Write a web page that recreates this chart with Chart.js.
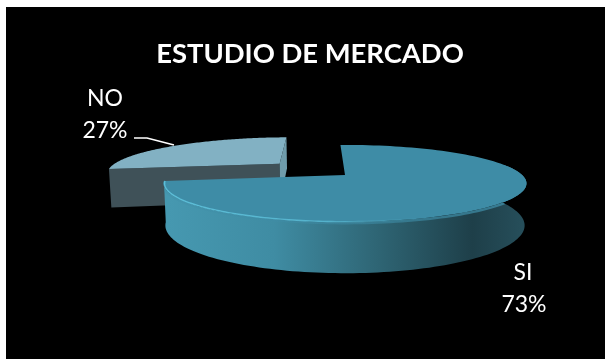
<!DOCTYPE html>
<html>
<head>
<meta charset="utf-8">
<title>Estudio de mercado</title>
<style>
    html, body { margin: 0; padding: 0; background: #fff; overflow: hidden; }
    #wrap { position: absolute; left: 6px; top: 7px; width: 599px; height: 352px; background: #000; }
</style>
</head>
<body>
<div id="wrap"><canvas id="chart" width="599" height="352"></canvas></div>
<script src="https://cdn.jsdelivr.net/npm/chart.js@4/dist/chart.umd.js"></script>
<script>
const categories = ['SI', 'NO'];
const values = [73, 27];
const topColors = ['#3e8ca6', '#82b1c3'];
const explode = [0, 91];

// view of the tilted disc
const FLATTEN = 0.207;
const PERSPECTIVE = 0.22;
const DEPTH = 40;
const SHIFT_X = 35;

// turns a point on the disc (in pixels from the pie centre) into a screen point
function project(cx, cy, r, x, y, low) {
    const s = 1 / (1 - PERSPECTIVE * y / r);
    const shrink = low ? 0.99 : 1;
    return {
        x: cx + x * s * shrink,
        y: cy + y * FLATTEN * s + (low ? DEPTH * s : 0)
    };
}

function rimPoints(cx, cy, r, ox, oy, from, to, low) {
    const pts = [];
    const steps = 120;
    for (let i = 0; i <= steps; i++) {
        const a = from + (to - from) * i / steps;
        pts.push(project(cx, cy, r, ox + r * Math.cos(a), oy + r * Math.sin(a), low));
    }
    return pts;
}

function tracePoints(ctx, pts) {
    pts.forEach((p, i) => {
        if (i === 0) {
            ctx.moveTo(p.x, p.y);
        } else {
            ctx.lineTo(p.x, p.y);
        }
    });
}

function fillShape(ctx, pts, fill) {
    ctx.beginPath();
    tracePoints(ctx, pts);
    ctx.closePath();
    ctx.fillStyle = fill;
    ctx.fill();
}

function drawSlice(ctx, el, index) {
    const {x, y, startAngle, endAngle, outerRadius: r} = el.getProps(['x', 'y', 'startAngle', 'endAngle', 'outerRadius'], true);
    const cx = x + SHIFT_X;
    const mid = (startAngle + endAngle) / 2;
    const ox = Math.cos(mid) * explode[index];
    const oy = Math.sin(mid) * explode[index];

    const apexTop = project(cx, y, r, ox, oy, false);
    const apexLow = project(cx, y, r, ox, oy, true);
    const top = rimPoints(cx, y, r, ox, oy, startAngle, endAngle, false);

    if (index === 0) {
        // outer wall, only the part that faces the viewer
        const wallFrom = -0.3;
        const wallTop = rimPoints(cx, y, r, ox, oy, wallFrom, endAngle, false);
        const wallLow = rimPoints(cx, y, r, ox, oy, wallFrom, endAngle, true);
        const wall = wallTop.concat(wallLow.slice().reverse());
        const grad = ctx.createLinearGradient(cx - r, 0, cx + r, 0);
        grad.addColorStop(0, '#4698b0');
        grad.addColorStop(0.3, '#3f8ca3');
        grad.addColorStop(0.6, '#2e6473');
        grad.addColorStop(0.86, '#1e3f49');
        grad.addColorStop(1, '#264e5a');
        fillShape(ctx, wall, grad);

        // soft bevel where the wall meets the top face, kept inside the wall
        const bevel = ctx.createLinearGradient(cx - r, 0, cx + r, 0);
        bevel.addColorStop(0, 'rgba(62,140,166,0.25)');
        bevel.addColorStop(1, 'rgba(62,140,166,0.8)');
        ctx.save();
        ctx.beginPath();
        tracePoints(ctx, wall);
        ctx.closePath();
        ctx.clip();
        ctx.beginPath();
        tracePoints(ctx, wallTop);
        ctx.strokeStyle = bevel;
        ctx.lineWidth = 5;
        ctx.stroke();
        ctx.restore();
    } else {
        // the two cut faces of the pulled-out slice
        const low = rimPoints(cx, y, r, ox, oy, startAngle, endAngle, true);
        const first = top[0];
        const firstLow = low[0];
        const last = top[top.length - 1];
        const lastLow = low[low.length - 1];
        fillShape(ctx, [first, apexTop, apexLow, firstLow], '#3f5158');
        fillShape(ctx, [last, apexTop, apexLow, lastLow], '#6f9cab');
    }

    fillShape(ctx, [apexTop].concat(top), el.options.backgroundColor);

    if (index === 0) {
        // thin highlight on the near edge, gone before the right side
        const edge = rimPoints(cx, y, r - 1, ox, oy, Math.PI * 0.2, endAngle, false);
        const shine = ctx.createLinearGradient(cx - r, 0, cx + r, 0);
        shine.addColorStop(0, 'rgba(92,190,216,1)');
        shine.addColorStop(0.45, 'rgba(88,184,210,0.9)');
        shine.addColorStop(0.72, 'rgba(80,170,195,0)');
        ctx.beginPath();
        tracePoints(ctx, edge);
        ctx.strokeStyle = shine;
        ctx.lineWidth = 1.4;
        ctx.stroke();
    }
}

const pie3d = {
    id: 'pie3d',
    beforeDatasetDraw(chart, args) {
        const ctx = chart.ctx;
        const arcs = chart.getDatasetMeta(args.index).data;
        ctx.save();
        // back slice first, the big one sits in front of it
        [1, 0].forEach(i => drawSlice(ctx, arcs[i], i));
        ctx.restore();
        return false;
    },
    afterDraw(chart) {
        const ctx = chart.ctx;
        ctx.save();
        ctx.fillStyle = '#fff';
        ctx.font = '23px Lato';
        ctx.textAlign = 'center';
        ctx.textBaseline = 'middle';
        ctx.fillText(categories[1], 99, 92);
        ctx.fillText(values[1] + '%', 99, 124);
        ctx.fillText(categories[0], 517, 266);
        ctx.fillText(values[0] + '%', 518, 298);

        ctx.strokeStyle = '#fff';
        ctx.lineWidth = 1.5;
        ctx.beginPath();
        ctx.moveTo(128, 131);
        ctx.lineTo(141, 131);
        ctx.lineTo(168, 138);
        ctx.stroke();
        ctx.restore();
    }
};

new Chart(document.getElementById('chart'), {
    type: 'pie',
    data: {
        labels: categories,
        datasets: [{
            data: values,
            backgroundColor: topColors,
            borderWidth: 0
        }]
    },
    options: {
        responsive: false,
        animation: false,
        rotation: -1.8,
        radius: 177,
        layout: {
            padding: { left: 9, bottom: 80 }
        },
        plugins: {
            legend: { display: false },
            tooltip: { enabled: false },
            title: {
                display: true,
                text: 'ESTUDIO DE MERCADO',
                color: '#fff',
                font: { family: 'Lato', size: 27.4, weight: 'bold' },
                padding: { top: 31, bottom: 0 }
            }
        }
    },
    plugins: [pie3d]
});
</script>
</body>
</html>
